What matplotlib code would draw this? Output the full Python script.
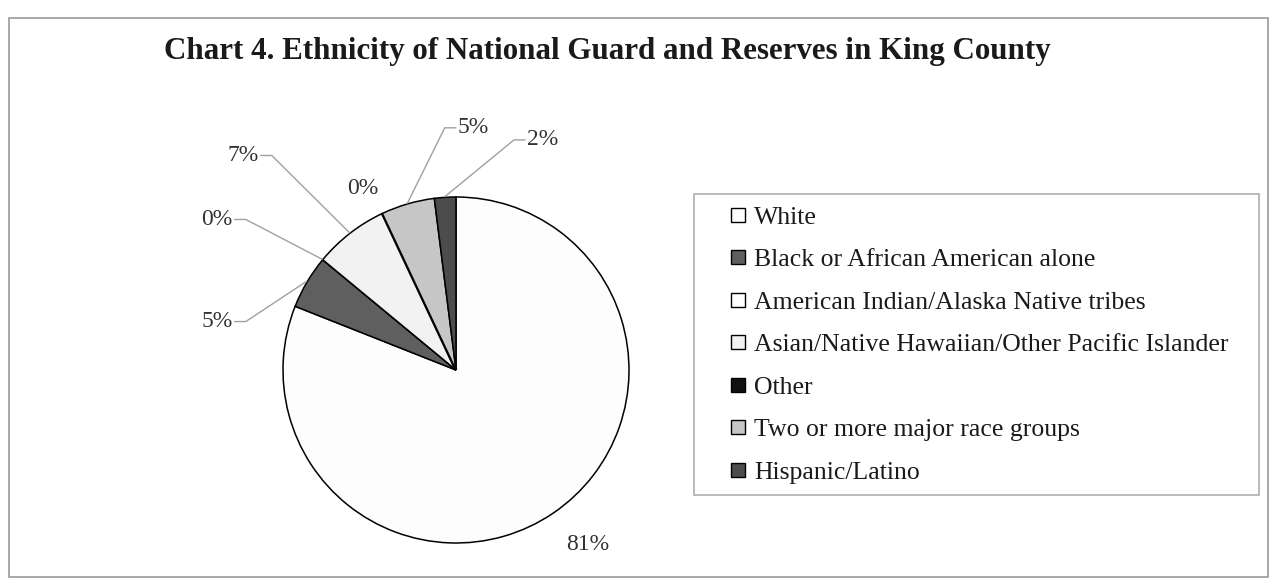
import matplotlib.pyplot as plt
from matplotlib.patches import Rectangle
from matplotlib.lines import Line2D
import numpy as np

plt.rcParams['font.family'] = ['Liberation Serif', 'DejaVu Serif']

categories = ['White',
              'Black or African American alone',
              'American Indian/Alaska Native tribes',
              'Asian/Native Hawaiian/Other Pacific Islander',
              'Other',
              'Two or more major race groups',
              'Hispanic/Latino']
shares = [81, 5, 0, 7, 0, 5, 2]

fills = ['#fdfdfd', '#5f5f5f', '#ffffff', '#f2f2f2', '#111111', '#c6c6c6', '#4c4c4c']

# where each percentage sits (pie radius = 1) and which way its leader runs
label_xy = [(0.76, -1.01), (-1.29, 0.28), (-1.29, 0.87), (-1.14, 1.24),
            (-0.54, 1.05), (0.01, 1.40), (0.41, 1.33)]
leader_dir = [0, 1, 1, 1, 0, -1, -1]   # +1: text left of its leader, -1: right of it

W, H = 1271, 586
fig = plt.figure(figsize=(W / 100, H / 100), dpi=100)
fig.patch.set_facecolor('white')

# outer chart border
fig.add_artist(Rectangle((9 / W, 9 / H), 1259 / W, 559 / H, transform=fig.transFigure,
                         fill=False, edgecolor='#9a9a9a', linewidth=1.2))

fig.text(607 / W, 1 - 52 / H, 'Chart 4. Ethnicity of National Guard and Reserves in King County',
         ha='center', va='center', fontsize=22.3, fontweight='bold', color='#1a1a1a')

ax = fig.add_axes([283 / W, 43 / H, 346 / W, 346 / H])
wedges, _ = ax.pie(shares, colors=fills, startangle=90, counterclock=False,
                   wedgeprops=dict(edgecolor='black', linewidth=1.1))
wedges[4].set_linewidth(2.2)   # zero-width black slice shows as a heavier spoke
ax.set_xlim(-1, 1)
ax.set_ylim(-1, 1)
ax.set_aspect('equal')
ax.axis('off')

total = sum(shares)
for w, v, (tx, ty), d in zip(wedges, shares, label_xy, leader_dir):
    pct = '{:.0f}%'.format(v / total * 100)
    ha = {0: 'center', 1: 'right', -1: 'left'}[d]
    ax.text(tx, ty, pct, ha=ha, va='center', fontsize=17, color='#333333')
    if d == 0:
        continue
    mid = np.deg2rad((w.theta1 + w.theta2) / 2)
    ax_pt = (np.cos(mid) * 1.005, np.sin(mid) * 1.005)
    x0 = tx + d * 0.012
    x1 = tx + d * 0.075
    ax.plot([x0, x1, ax_pt[0]], [ty, ty, ax_pt[1]], color='#a0a0a0', lw=1, clip_on=False)

handles = [Line2D([], [], ls='none', marker='s', markersize=10.5, markerfacecolor=c,
                  markeredgecolor='black', markeredgewidth=1) for c in fills]
leg = fig.legend(handles, categories, loc='upper left', mode='expand',
                 bbox_to_anchor=(694 / W, 92 / H, 565 / W, 300 / H),
                 fontsize=18.5, frameon=True, fancybox=False, edgecolor='#9a9a9a',
                 borderpad=0.45, labelspacing=0.76, handlelength=2.5, handletextpad=-0.6,
                 borderaxespad=0)
leg.get_frame().set_linewidth(1.2)
for t in leg.get_texts():
    t.set_color('#1a1a1a')

fig.savefig('out.png', dpi=100)
